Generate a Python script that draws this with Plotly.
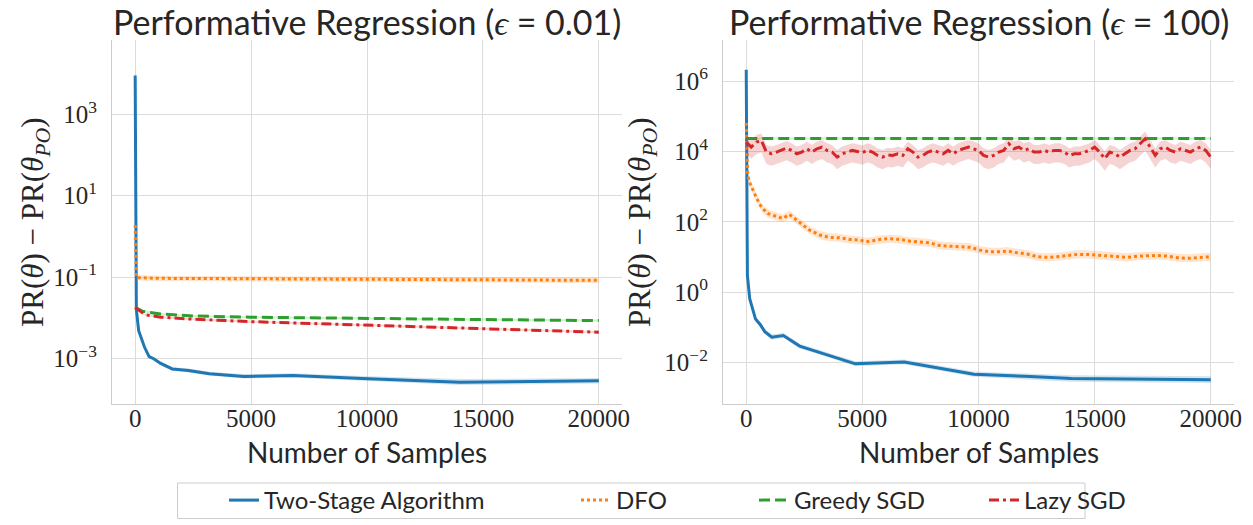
import numpy as np
import plotly.graph_objects as go

# ---- data ----
two_x = [0, 50, 150, 400, 600, 800, 1100, 1600, 2300, 3200, 4700, 6800, 9800, 12000, 14000, 20000]

two_left = [9000, 0.016, 0.0048, 0.0019, 0.0011, 0.00098, 0.00075, 0.00055, 0.0005, 0.00042,
            0.00036, 0.00038, 0.00032, 0.00029, 0.00026, 0.00028]
two_left_hi = [27000, 0.018, 0.0053, 0.0021, 0.00122, 0.00108, 0.00083, 0.00061, 0.00056, 0.00047,
               0.00041, 0.00043, 0.00037, 0.00034, 0.00031, 0.00033]
two_left_lo = [3000, 0.014, 0.0043, 0.0017, 0.001, 0.00089, 0.00068, 0.0005, 0.00045, 0.00038,
               0.00032, 0.00034, 0.00028, 0.00025, 0.00022, 0.00024]

two_right = [2.1e6, 3.0, 0.65, 0.17, 0.12, 0.075, 0.052, 0.058, 0.029, 0.019,
             0.0091, 0.0103, 0.0046, 0.004, 0.0035, 0.0032]
two_right_hi = [6e6, 3.6, 0.78, 0.2, 0.14, 0.088, 0.062, 0.068, 0.034, 0.022,
                0.0107, 0.012, 0.0055, 0.0048, 0.0043, 0.004]
two_right_lo = [3e5, 2.4, 0.54, 0.145, 0.1, 0.064, 0.044, 0.05, 0.025, 0.0165,
                0.0078, 0.0089, 0.0039, 0.0033, 0.0028, 0.0026]

dfo_left_x = [0, 50, 1000, 5000, 10000, 15000, 20000]
dfo_left = [1.9, 0.097, 0.093, 0.09, 0.088, 0.086, 0.083]

greedy_left_x = [0, 300, 1100, 2500, 5000, 10000, 15000, 20000]
greedy_left = [0.018, 0.0145, 0.0123, 0.011, 0.0103, 0.0095, 0.009, 0.0085]

lazy_left_x = [0, 430, 1100, 2500, 5000, 10000, 15000, 20000]
lazy_left = [0.018, 0.0118, 0.0103, 0.0092, 0.008, 0.0066, 0.0054, 0.0044]

dfo_right_x = [0, 20, 60, 130, 270, 420, 560, 700, 920, 1140,
               1350, 1570, 1860, 2080, 2360, 2720, 3160, 3590, 4020, 4450,
               4880, 5170, 5460, 5750, 6180, 6610, 7050, 7480, 7910, 8340,
               8780, 9210, 9640, 10070, 10500, 10940, 11230, 11660, 12090, 12520,
               12950, 13390, 13820, 14250, 14680, 15120, 15550, 15980, 16410, 16840,
               17280, 17710, 18140, 18570, 19010, 19440, 20000]
dfo_right = [65000, 8000, 2400, 1380, 830, 515, 330, 240, 172, 155,
             138, 124, 162, 124, 90, 58, 42, 36, 35, 31.5,
             30, 27, 29, 31.5, 33, 31.5, 28, 26, 25, 21,
             20, 18.7, 18.7, 15.6, 14, 14, 14.7, 13.1, 12.1, 10.1,
             9.7, 10.1, 10.8, 11.8, 11.8, 11.3, 10.8, 10.1, 9.7, 10.5,
             10.8, 11.0, 10.5, 9.5, 9.1, 9.7, 10.1]

greedy_right_x = [0, 5000, 10000, 15000, 20000]
greedy_right = [23500, 23500, 23500, 23500, 23500]

lazy_right = [18400, 13300, 18400, 20500, 9600, 8600, 9600, 10700, 12400, 10700,
              8600, 9600, 11900, 9600, 11900, 13300, 10700, 9600, 6900, 8600,
              9600, 10700, 10000, 9200, 10700, 9600, 7700, 6900, 8000, 7700,
              8600, 7700, 11900, 9600, 6900, 7700, 9600, 10700, 9600, 8600,
              10700, 8600, 10700, 11900, 13300, 11900, 10700, 7700, 6900, 7700,
              9600, 10700, 16500, 11900, 13300, 10700, 11900, 9600, 9600, 10700,
              9600, 10700, 10700, 9600, 7700, 8600, 8600, 9600, 10700, 13300,
              9600, 6200, 9600, 8600, 6900, 8600, 10700, 11900, 16500, 22900,
              13300, 7700, 11900, 13300, 10700, 9600, 11900, 10700, 9600, 11900,
              13300, 10700, 6900]
lazy_right_x = np.linspace(0, 20000, len(lazy_right))

x_ticks = [0, 5000, 10000, 15000, 20000]
x_tick_text = ['0', '5000', '10000', '15000', '20000']

# spread of the shaded bands (multiplicative)
dfo_left_spread = 1.16
small_spread = 1.06
dfo_right_spread = 1.3
lazy_up, lazy_down = 1.6, 2.2

names = ['Two-Stage Algorithm', 'DFO', 'Greedy SGD', 'Lazy SGD']
legend_ids = ['legend', 'legend2', 'legend3', 'legend4']
legend_text_x = [265, 617, 795, 1025]   # px where each legend label starts
colors = ['#1f77b4', '#ff7f0e', '#2ca02c', '#d62728']
fills = ['rgba(31,119,180,0.2)', 'rgba(255,127,14,0.2)', 'rgba(44,160,44,0.2)', 'rgba(214,39,40,0.2)']
dashes = ['solid', '3px,3px', '11px,5px', '10px,4px,3px,4px']

SANS = 'Lato'
SERIF = 'Liberation Serif'

fig = go.Figure()


def add_series(x, y, lo, hi, k, xa, ya, legend):
    fig.add_trace(go.Scatter(x=x, y=lo, mode='lines', line=dict(width=0), xaxis=xa, yaxis=ya,
                             showlegend=False, hoverinfo='skip'))
    fig.add_trace(go.Scatter(x=x, y=hi, mode='lines', line=dict(width=0), fill='tonexty',
                             fillcolor=fills[k], xaxis=xa, yaxis=ya, showlegend=False, hoverinfo='skip'))
    fig.add_trace(go.Scatter(x=x, y=y, mode='lines', name=names[k], legend=legend_ids[k],
                             xaxis=xa, yaxis=ya,
                             line=dict(color=colors[k], width=3, dash=dashes[k]), showlegend=legend))


a = np.array
# left panel
add_series(two_x, two_left, two_left_lo, two_left_hi, 0, 'x', 'y', True)
add_series(dfo_left_x, dfo_left, a(dfo_left) / dfo_left_spread, a(dfo_left) * dfo_left_spread, 1, 'x', 'y', True)
add_series(greedy_left_x, greedy_left, a(greedy_left) / small_spread, a(greedy_left) * small_spread, 2, 'x', 'y', True)
add_series(lazy_left_x, lazy_left, a(lazy_left) / small_spread, a(lazy_left) * small_spread, 3, 'x', 'y', True)
# right panel
add_series(two_x, two_right, two_right_lo, two_right_hi, 0, 'x2', 'y2', False)
add_series(dfo_right_x, dfo_right, a(dfo_right) / dfo_right_spread, a(dfo_right) * dfo_right_spread, 1, 'x2', 'y2', False)
add_series(greedy_right_x, greedy_right, a(greedy_right) / small_spread, a(greedy_right) * small_spread, 2, 'x2', 'y2', False)
add_series(lazy_right_x, lazy_right, a(lazy_right) / lazy_down, a(lazy_right) * lazy_up, 3, 'x2', 'y2', False)

W, H = 1253, 525


def px_x(p):
    return p / W


def px_y(p):
    return (H - p) / H


xcommon = dict(range=[-1000, 21000], tickvals=x_ticks, ticktext=x_tick_text,
               showgrid=True, gridcolor='#dcdcdc', gridwidth=1, zeroline=False,
               showline=True, linecolor='#cccccc', linewidth=1.2, ticks='', ticklen=0,
               ticklabelstandoff=-8,
               tickfont=dict(family=SERIF, size=25, color='#262626'))
ycommon = dict(type='log', showgrid=True, gridcolor='#dcdcdc', gridwidth=1, zeroline=False,
               showline=True, linecolor='#cccccc', linewidth=1.2, ticks='', ticklen=0,
               ticklabelstandoff=9,
               tickfont=dict(family=SERIF, size=25, color='#262626'))

left_ticks = [1e-3, 1e-1, 1e1, 1e3]
left_text = ['10<sup>\u22123</sup>', '10<sup>\u22121</sup>', '10<sup>1</sup>', '10<sup>3</sup>']
right_ticks = [1e-2, 1, 1e2, 1e4, 1e6]
right_text = ['10<sup>\u22122</sup>', '10<sup>0</sup>', '10<sup>2</sup>', '10<sup>4</sup>', '10<sup>6</sup>']

legends = {}
for k in range(4):
    legends[legend_ids[k]] = dict(orientation='h', x=px_x(legend_text_x[k] - 41), xanchor='left',
                                  y=px_y(500.5), yanchor='middle', bgcolor='rgba(0,0,0,0)',
                                  borderwidth=0,
                                  font=dict(family=SANS, size=24, color='#262626'))

fig.update_layout(
    width=W, height=H,
    margin=dict(l=0, r=0, t=0, b=0, autoexpand=False),
    plot_bgcolor='white', paper_bgcolor='white',
    xaxis=dict(domain=[px_x(112), px_x(622)], anchor='y', **xcommon),
    xaxis2=dict(domain=[px_x(723), px_x(1234)], anchor='y2', **xcommon),
    yaxis=dict(domain=[px_y(403.5), px_y(40)], anchor='x', range=[-4.11, 4.83],
               tickvals=left_ticks, ticktext=left_text, **ycommon),
    yaxis2=dict(domain=[px_y(403.5), px_y(40)], anchor='x2', range=[-3.17, 7.17],
                tickvals=right_ticks, ticktext=right_text, **ycommon),
    showlegend=True,
    **legends,
)

# legend frame
fig.add_shape(type='rect', xref='paper', yref='paper',
              x0=px_x(177.5), x1=px_x(1085), y0=px_y(518.5), y1=px_y(483),
              line=dict(color='#cccccc', width=1), fillcolor='white', layer='below')

eps = '<span style="font-family:Liberation Serif"><i>\u03f5</i></span>'
ylab = 'PR(<i>\u03b8</i>) \u2212 PR(<i>\u03b8</i><sub><i>PO</i></sub>)'
titles = ['Performative Regression (' + eps + ' = 0.01)',
          'Performative Regression (' + eps + ' = 100)']
centers = [367, 978.5]
ylab_x = [35, 642]
for i in range(2):
    fig.add_annotation(text=titles[i], x=px_x(centers[i]), y=px_y(22), xref='paper', yref='paper',
                       showarrow=False, xanchor='center', yanchor='middle',
                       font=dict(family=SANS, size=34, color='#262626'))
    fig.add_annotation(text='Number of Samples', x=px_x(centers[i]), y=px_y(452), xref='paper', yref='paper',
                       showarrow=False, xanchor='center', yanchor='middle',
                       font=dict(family=SANS, size=28, color='#262626'))
    fig.add_annotation(text=ylab, x=px_x(ylab_x[i]), y=px_y(222), xref='paper', yref='paper',
                       showarrow=False, xanchor='center', yanchor='middle', textangle=-90,
                       font=dict(family=SERIF, size=31, color='#262626'))

# drop the page's default body margin so the figure sits at the window's corner
fig.write_html('out.html', config={'displayModeBar': False},
               post_script="document.body.style.margin='0';")
